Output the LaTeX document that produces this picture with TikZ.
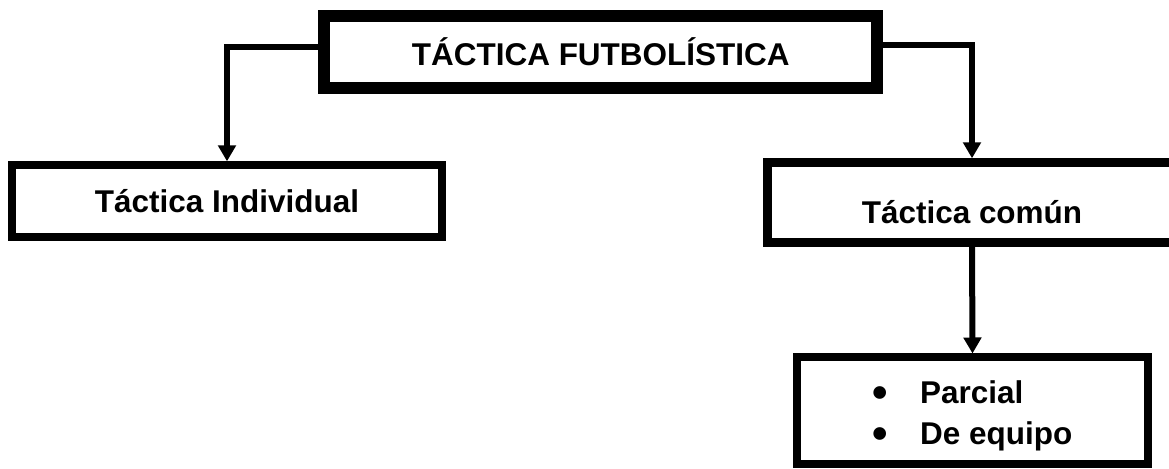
\documentclass[tikz,border=0pt]{standalone}
\usepackage{fontspec}
\setmainfont{Liberation Sans}
\usetikzlibrary{arrows.meta}

\newcommand{\punto}{\raisebox{-0.13em}{\scalebox{1.4}{\textbullet}}\hspace{24pt}}

\begin{document}
\begin{tikzpicture}[x=0.75pt,y=-0.75pt,
		caja/.style={draw,rectangle,line width=6pt,inner sep=0pt,font=\bfseries\fontsize{23.6}{31.3}\selectfont},
		flecha/.style={line width=4.5pt,-{Triangle[length=12pt,width=13pt]}}]
		\useasboundingbox (0,0) rectangle (1169,468);
		\node[caja,line width=9pt,minimum width=414.4pt,minimum height=54pt] (tactica) at (600.75,52) {TÁCTICA FUTBOLÍSTICA};
		\node[caja,minimum width=322.5pt,minimum height=53.5pt] (individual) at (227,201) {Táctica Individual};
		\node[caja,line width=6.3pt,minimum width=306.75pt,minimum height=60pt,text height=32pt,text depth=0pt] (comun) at (972,202.5) {Táctica común};
		\node[caja,minimum width=263.25pt,minimum height=79.9pt,align=left] (partes) at (972.5,410.75)
			{\rule{0pt}{24.7pt}\punto Parcial\\\punto De equipo};
		\draw[flecha] ([yshift=3.5pt]tactica.west) -| (individual.north);
		\draw[flecha] ([yshift=5pt]tactica.east) -| (comun.north);
		\draw[flecha] (comun.south) -- (partes.north);
	\end{tikzpicture}
\end{document}
